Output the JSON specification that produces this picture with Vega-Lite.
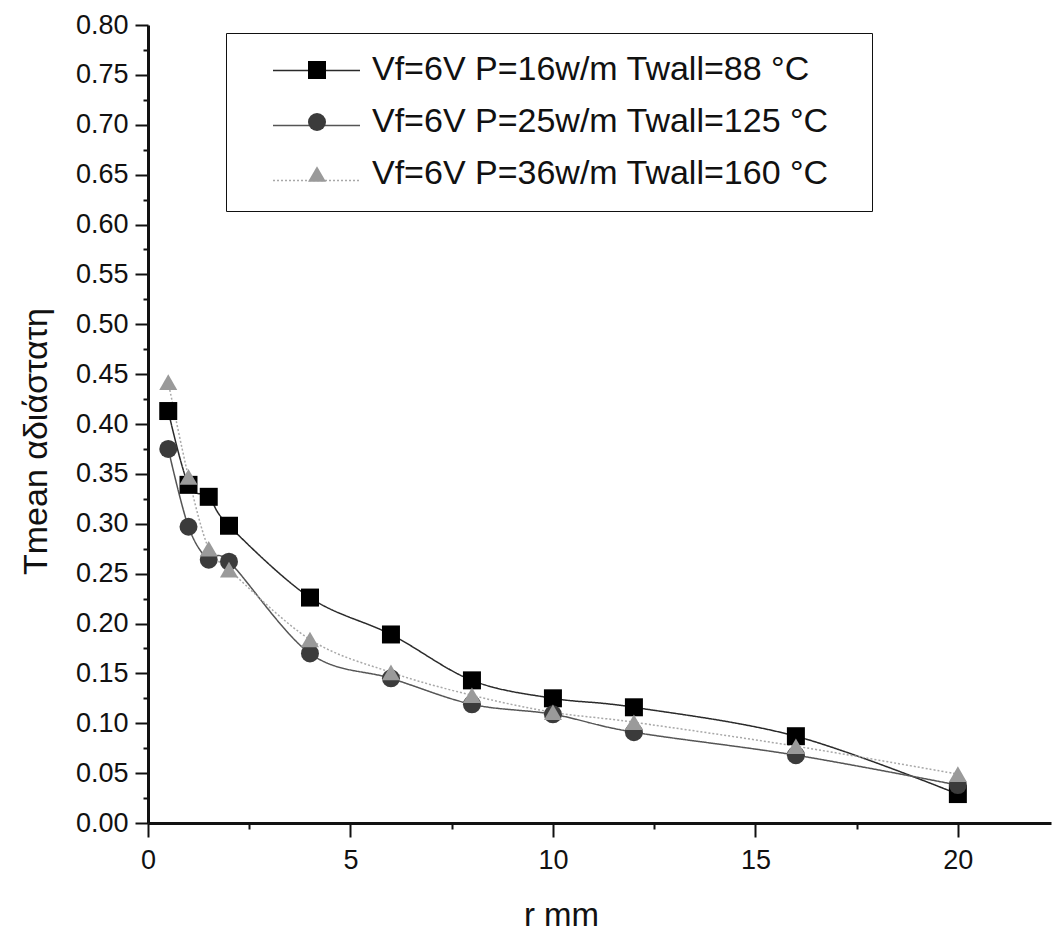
{
  "$schema": "https://vega.github.io/schema/vega-lite/v6.json",
  "width": 903,
  "height": 798,
  "autosize": {"type": "none"},
  "padding": {"left": 148, "top": 25, "right": 1, "bottom": 114},
  "background": "white",
  "config": {"view": {"stroke": null}, "font": "Liberation Sans"},
  "data": {
    "values": [
      {"r": 0.5, "T": 0.413, "series": "Vf=6V P=16w/m Twall=88 °C"},
      {"r": 1, "T": 0.339, "series": "Vf=6V P=16w/m Twall=88 °C"},
      {"r": 1.5, "T": 0.327, "series": "Vf=6V P=16w/m Twall=88 °C"},
      {"r": 2, "T": 0.298, "series": "Vf=6V P=16w/m Twall=88 °C"},
      {"r": 4, "T": 0.226, "series": "Vf=6V P=16w/m Twall=88 °C"},
      {"r": 6, "T": 0.189, "series": "Vf=6V P=16w/m Twall=88 °C"},
      {"r": 8, "T": 0.143, "series": "Vf=6V P=16w/m Twall=88 °C"},
      {"r": 10, "T": 0.125, "series": "Vf=6V P=16w/m Twall=88 °C"},
      {"r": 12, "T": 0.116, "series": "Vf=6V P=16w/m Twall=88 °C"},
      {"r": 16, "T": 0.087, "series": "Vf=6V P=16w/m Twall=88 °C"},
      {"r": 20, "T": 0.029, "series": "Vf=6V P=16w/m Twall=88 °C"},
      {"r": 0.5, "T": 0.375, "series": "Vf=6V P=25w/m Twall=125 °C"},
      {"r": 1, "T": 0.297, "series": "Vf=6V P=25w/m Twall=125 °C"},
      {"r": 1.5, "T": 0.264, "series": "Vf=6V P=25w/m Twall=125 °C"},
      {"r": 2, "T": 0.262, "series": "Vf=6V P=25w/m Twall=125 °C"},
      {"r": 4, "T": 0.17, "series": "Vf=6V P=25w/m Twall=125 °C"},
      {"r": 6, "T": 0.145, "series": "Vf=6V P=25w/m Twall=125 °C"},
      {"r": 8, "T": 0.119, "series": "Vf=6V P=25w/m Twall=125 °C"},
      {"r": 10, "T": 0.109, "series": "Vf=6V P=25w/m Twall=125 °C"},
      {"r": 12, "T": 0.091, "series": "Vf=6V P=25w/m Twall=125 °C"},
      {"r": 16, "T": 0.068, "series": "Vf=6V P=25w/m Twall=125 °C"},
      {"r": 20, "T": 0.038, "series": "Vf=6V P=25w/m Twall=125 °C"},
      {"r": 0.5, "T": 0.442, "series": "Vf=6V P=36w/m Twall=160 °C"},
      {"r": 1, "T": 0.347, "series": "Vf=6V P=36w/m Twall=160 °C"},
      {"r": 1.5, "T": 0.275, "series": "Vf=6V P=36w/m Twall=160 °C"},
      {"r": 2, "T": 0.254, "series": "Vf=6V P=36w/m Twall=160 °C"},
      {"r": 4, "T": 0.184, "series": "Vf=6V P=36w/m Twall=160 °C"},
      {"r": 6, "T": 0.151, "series": "Vf=6V P=36w/m Twall=160 °C"},
      {"r": 8, "T": 0.128, "series": "Vf=6V P=36w/m Twall=160 °C"},
      {"r": 10, "T": 0.111, "series": "Vf=6V P=36w/m Twall=160 °C"},
      {"r": 12, "T": 0.101, "series": "Vf=6V P=36w/m Twall=160 °C"},
      {"r": 16, "T": 0.077, "series": "Vf=6V P=36w/m Twall=160 °C"},
      {"r": 20, "T": 0.049, "series": "Vf=6V P=36w/m Twall=160 °C"}
    ]
  },
  "encoding": {
    "x": {
      "field": "r",
      "type": "quantitative",
      "scale": {"domain": [0, 22.3], "nice": false, "zero": false},
      "axis": {
        "values": [0, 2.5, 5, 7.5, 10, 12.5, 15, 17.5, 20],
        "labelExpr": "datum.value % 5 === 0 ? datum.label : ''",
        "grid": false,
        "tickSize": 14,
        "tickWidth": 2,
        "tickColor": "#111111",
        "tickDash": {"condition": {"test": "datum.value % 5 !== 0", "value": [6, 100]}, "value": [100, 0]},
        "domainColor": "#111111",
        "domainWidth": 3,
        "labelFont": "Liberation Sans",
        "labelFontSize": 27,
        "labelColor": "#111111",
        "labelPadding": 10,
        "labelFlush": false,
        "labelOverlap": false,
        "title": "r mm",
        "titleFont": "Liberation Sans",
        "titleFontSize": 33,
        "titleFontWeight": "normal",
        "titleColor": "#111111",
        "titlePadding": 26,
        "titleX": 413
      }
    },
    "y": {
      "field": "T",
      "type": "quantitative",
      "scale": {"domain": [0, 0.8], "nice": false},
      "axis": {
        "values": [0, 0.025, 0.05, 0.075, 0.1, 0.125, 0.15, 0.175, 0.2, 0.225, 0.25, 0.275, 0.3, 0.325, 0.35, 0.375, 0.4, 0.425, 0.45, 0.475, 0.5, 0.525, 0.55, 0.575, 0.6, 0.625, 0.65, 0.675, 0.7, 0.725, 0.75, 0.775, 0.8],
        "labelExpr": "round(datum.value * 1000) % 50 === 0 ? format(datum.value, '.2f') : ''",
        "grid": false,
        "tickSize": 13,
        "tickWidth": 2,
        "tickColor": "#111111",
        "tickDash": {"condition": {"test": "round(datum.value * 1000) % 50 !== 0", "value": [5, 100]}, "value": [100, 0]},
        "domainColor": "#111111",
        "domainWidth": 3,
        "labelFont": "Liberation Sans",
        "labelFontSize": 27,
        "labelColor": "#111111",
        "labelPadding": 7,
        "labelFlush": false,
        "labelOverlap": false,
        "title": "Tmean  αδιάστατη",
        "titleFont": "Liberation Sans",
        "titleFontSize": 34,
        "titleFontWeight": "normal",
        "titleColor": "#111111",
        "titlePadding": 22,
        "titleY": 416
      }
    }
  },
  "layer": [
    {
      "mark": {"type": "line", "interpolate": "cardinal", "strokeWidth": 1.5},
      "encoding": {
        "color": {
          "field": "series",
          "type": "nominal",
          "scale": {"domain": ["Vf=6V P=16w/m Twall=88 °C", "Vf=6V P=25w/m Twall=125 °C", "Vf=6V P=36w/m Twall=160 °C"], "range": ["#2a2a2a", "#555555", "#a8a8a8"]},
          "legend": {
            "orient": "none",
            "legendX": 78,
            "legendY": 1,
            "title": null,
            "padding": 0,
            "labelFont": "Liberation Sans",
            "labelFontSize": 1,
            "labelOpacity": 0,
            "labelExpr": "''",
            "symbolType": "stroke",
            "symbolSize": 7569,
            "symbolStrokeWidth": 1.5,
            "symbolOffset": 46,
            "labelOffset": 0,
            "rowPadding": 7
          }
        },
        "strokeDash": {
          "field": "series",
          "type": "nominal",
          "scale": {"domain": ["Vf=6V P=16w/m Twall=88 °C", "Vf=6V P=25w/m Twall=125 °C", "Vf=6V P=36w/m Twall=160 °C"], "range": [[1, 0], [1, 0], [2, 2]]}
        }
      }
    },
    {
      "mark": {"type": "point", "filled": true, "size": 324, "opacity": 1},
      "encoding": {
        "color": {
          "field": "series",
          "type": "nominal",
          "scale": {"domain": ["Vf=6V P=16w/m Twall=88 °C", "Vf=6V P=25w/m Twall=125 °C", "Vf=6V P=36w/m Twall=160 °C"], "range": ["#000000", "#3b3b3b", "#9a9a9a"]},
          "legend": {
            "orient": "none",
            "legendX": 78,
            "legendY": 8,
            "title": "\u00a0",
            "titleOrient": "right",
            "titlePadding": 23,
            "titleFontSize": 20,
            "padding": 20,
            "strokeColor": "#111111",
            "labelFont": "Liberation Sans",
            "labelFontSize": 34,
            "labelColor": "#111111",
            "labelLimit": 1000,
            "symbolSize": 324,
            "symbolOpacity": 1,
            "symbolOffset": 54,
            "labelOffset": 38,
            "rowPadding": 18
          }
        },
        "shape": {
          "field": "series",
          "type": "nominal",
          "scale": {"domain": ["Vf=6V P=16w/m Twall=88 °C", "Vf=6V P=25w/m Twall=125 °C", "Vf=6V P=36w/m Twall=160 °C"], "range": ["square", "circle", "triangle-up"]}
        }
      }
    }
  ],
  "resolve": {"scale": {"color": "independent", "shape": "independent", "strokeDash": "independent"}}
}
